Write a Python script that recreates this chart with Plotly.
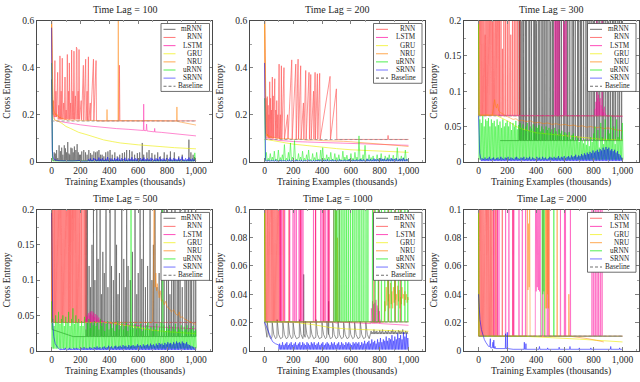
import plotly.graph_objects as go

W, H = 640, 382
FONT = "Liberation Serif"

# ---------------- axes / labels ----------------
TIME_LAGS = [100, 200, 300, 500, 1000, 2000]
Y_MAX = [0.6, 0.6, 0.2, 0.2, 0.1, 0.1]
Y_DTICK = [0.2, 0.2, 0.05, 0.05, 0.02, 0.02]
X_TICKS = [0, 200, 400, 600, 800, 1000]
BASELINE = [0.1733, 0.0945, 0.0650, 0.0400, 0.0204, 0.0103]
MODELS = ["mRNN", "RNN", "LSTM", "GRU", "NRU", "uRNN", "SRNN"]
LEGENDS = [MODELS + ["Baseline"], MODELS[1:] + ["Baseline"], MODELS + ["Baseline"],
           MODELS + ["Baseline"], MODELS + ["Baseline"], MODELS[1:] + ["Baseline"]]


def spikes(xs, tops, base, w=1.5):
    if not isinstance(tops, (list, tuple)):
        tops = [tops] * len(xs)
    pts = []
    for x, t in zip(xs, tops):
        pts += [(x - w, base), (x, t), (x + w, base)]
    return pts


def saw(x0, dx, tops, base):
    pts = []
    for i, t in enumerate(tops):
        pts += [(x0 + i * dx, base), (x0 + i * dx + dx / 2, t)]
    pts.append((x0 + len(tops) * dx, base))
    return pts


def teeth(starts, peaks, trough):
    pts = []
    for s, p in zip(starts, peaks):
        pts += [(s, trough + 0.001), (s + 1.5, p), (s + 5, p - 0.004),
                (s + 12, trough + 0.003), (s + 25, trough)]
    return pts


def merge(*parts):
    pts = sorted([p for part in parts for p in part], key=lambda q: q[0])
    return pts

# ======================= Time Lag = 100 =======================
mrnn_100_base = [(0, 0.35), (3, 0.12), (6, 0.02), (10, 0.006), (1000, 0.004)]
mrnn_100_sx = [18, 26, 35, 43, 52, 61, 70, 78, 88, 96, 104, 112, 120, 126, 134, 142, 150, 158, 168, 177,
               185, 193, 200, 209, 223, 235, 246, 258, 270, 280, 293, 305, 316, 328, 339, 350, 362, 375, 390, 405,
               420, 438, 455, 472, 490, 505, 520, 540, 557, 575, 594, 610, 628, 638, 660, 675, 695, 715, 735, 753,
               780, 800, 823, 850, 881, 905, 951, 965, 980, 990]
mrnn_100_sy = [0.04, 0.035, 0.05, 0.016, 0.07, 0.045, 0.06, 0.03, 0.07, 0.057, 0.04, 0.084, 0.035, 0.03, 0.06, 0.057, 0.04, 0.065, 0.05, 0.075,
               0.04, 0.03, 0.03, 0.044, 0.05, 0.04, 0.03, 0.05, 0.037, 0.03, 0.044, 0.04, 0.044, 0.05, 0.03, 0.03, 0.023, 0.04, 0.044, 0.05,
               0.03, 0.04, 0.023, 0.03, 0.037, 0.04, 0.05, 0.05, 0.044, 0.03, 0.037, 0.04, 0.08, 0.03, 0.04, 0.05, 0.037, 0.03, 0.04, 0.023,
               0.04, 0.03, 0.044, 0.04, 0.023, 0.03, 0.094, 0.04, 0.03, 0.02]
rnn_100 = [(0, 0.6), (3, 0.3), (6, 0.24), (10, 0.2), (14, 0.26), (18, 0.19), (23, 0.43), (26, 0.19), (30, 0.3), (34, 0.19),
           (38, 0.27), (42, 0.38), (46, 0.18), (50, 0.24), (54, 0.18), (58, 0.45), (62, 0.18), (66, 0.3), (70, 0.18), (74, 0.44),
           (78, 0.18), (84, 0.25), (88, 0.18), (93, 0.36), (97, 0.18), (101, 0.22), (105, 0.18), (109, 0.456), (113, 0.18), (118, 0.3),
           (121, 0.18), (123, 0.42), (127, 0.18), (132, 0.25), (135, 0.18), (139, 0.475), (143, 0.18), (148, 0.3), (151, 0.18), (155, 0.47),
           (159, 0.18), (165, 0.28), (169, 0.18), (172, 0.487), (176, 0.48), (178, 0.18), (184, 0.3), (187, 0.18), (190, 0.477), (194, 0.18),
           (205, 0.26), (208, 0.178), (220, 0.41), (223, 0.176), (236, 0.436), (239, 0.176), (246, 0.3), (249, 0.176), (255, 0.446), (258, 0.175),
           (268, 0.25), (271, 0.175), (290, 0.436), (293, 0.175), (308, 0.43), (311, 0.174), (467, 0.174), (470, 0.41), (473, 0.174), (1000, 0.174)]
lstm_100 = [(0, 0.6), (3, 0.35), (6, 0.25), (10, 0.21), (15, 0.19), (22, 0.178), (30, 0.174), (72, 0.17), (100, 0.165),
            (200, 0.157), (280, 0.151), (361, 0.145), (450, 0.141), (530, 0.138), (591, 0.135), (636, 0.133), (638, 0.245),
            (640, 0.133), (655, 0.132), (658, 0.16), (661, 0.131), (700, 0.128), (712, 0.127), (714, 0.142), (716, 0.127),
            (760, 0.125), (822, 0.121), (900, 0.116), (1000, 0.11)]
gru_100 = [(0, 0.6), (3, 0.35), (6, 0.22), (10, 0.19), (20, 0.178), (40, 0.174), (72, 0.163), (100, 0.15), (130, 0.142),
           (188, 0.125), (245, 0.115), (300, 0.103), (360, 0.093), (420, 0.086), (476, 0.08), (600, 0.072), (707, 0.066),
           (850, 0.06), (1000, 0.055)]
nru_100 = [(0, 0.6), (3, 0.4), (6, 0.3), (10, 0.24), (15, 0.22), (20, 0.21), (25, 0.2), (30, 0.205), (35, 0.195), (40, 0.2),
           (45, 0.19), (50, 0.193), (55, 0.186), (60, 0.19), (70, 0.183), (80, 0.185), (90, 0.178), (100, 0.18), (110, 0.176), (120, 0.179),
           (140, 0.175), (160, 0.178), (180, 0.174), (200, 0.176), (230, 0.174), (260, 0.176), (290, 0.174), (320, 0.175), (350, 0.174),
           (382, 0.174), (384, 0.222), (386, 0.174), (420, 0.175), (460, 0.174), (462, 0.62), (464, 0.174), (500, 0.175), (540, 0.174),
           (580, 0.175), (620, 0.174), (660, 0.175), (700, 0.174), (740, 0.175), (780, 0.174), (820, 0.174), (866, 0.173),
           (868, 0.233), (870, 0.172), (900, 0.168), (930, 0.164), (960, 0.16), (1000, 0.156)]
urnn_100 = [(0, 0.42), (2, 0.15), (4, 0.03), (7, 0.003), (985, 0.003), (992, 0.038), (996, 0.01), (1000, 0.004)]
srnn_100_base = [(0, 0.57), (2, 0.2), (5, 0.05), (10, 0.02), (20, 0.008), (60, 0.004), (150, 0.003), (200, 0.006), (204, 0.002), (249, 0.002)]
srnn_100_tops = [0.010, 0.014, 0.008, 0.016, 0.012, 0.009, 0.018, 0.011, 0.015, 0.008,
                 0.013, 0.020, 0.010, 0.014, 0.009, 0.016, 0.012, 0.018, 0.010, 0.015,
                 0.011, 0.017, 0.009, 0.014, 0.012, 0.019, 0.010, 0.015, 0.013, 0.009,
                 0.016, 0.012, 0.018, 0.011, 0.014, 0.010, 0.017, 0.013, 0.009, 0.015,
                 0.012, 0.020, 0.011, 0.014, 0.010, 0.016, 0.012, 0.018, 0.010, 0.015,
                 0.013, 0.011, 0.017, 0.012, 0.022, 0.010, 0.015, 0.012, 0.018, 0.011,
                 0.014, 0.009]

# ======================= Time Lag = 200 =======================
rnn_200 = [(0, 0.6), (2, 0.45), (4, 0.3), (6, 0.25), (8, 0.12), (10, 0.27), (12, 0.11), (15, 0.26), (17, 0.1), (19, 0.277),
           (22, 0.11), (25, 0.24), (27, 0.1), (30, 0.2), (33, 0.1), (36, 0.34), (39, 0.1), (42, 0.27), (45, 0.1), (48, 0.22),
           (51, 0.1), (54, 0.36), (57, 0.1), (60, 0.28), (63, 0.1), (66, 0.25), (68, 0.1), (71, 0.353), (74, 0.1), (78, 0.22),
           (81, 0.1), (85, 0.26), (88, 0.1), (92, 0.2), (95, 0.1), (101, 0.415), (104, 0.097), (110, 0.2), (113, 0.097), (117, 0.408),
           (120, 0.097), (135, 0.40), (138, 0.096), (160, 0.2), (163, 0.096), (189, 0.433), (192, 0.096), (217, 0.415), (220, 0.096),
           (233, 0.436), (236, 0.096), (251, 0.408), (254, 0.096), (270, 0.25), (273, 0.096), (286, 0.388), (289, 0.096), (309, 0.38),
           (312, 0.096), (321, 0.371), (324, 0.096), (340, 0.3), (343, 0.096), (351, 0.38), (354, 0.096), (367, 0.374), (370, 0.096),
           (383, 0.376), (386, 0.095), (455, 0.363), (458, 0.095), (499, 0.31), (502, 0.095), (855, 0.095), (858, 0.112), (861, 0.095),
           (1000, 0.095)]
lstm_200 = [(0, 0.6), (2, 0.35), (4, 0.18), (7, 0.11), (12, 0.097), (50, 0.096), (100, 0.091), (150, 0.088), (200, 0.086),
            (300, 0.084), (400, 0.082), (500, 0.079), (600, 0.077), (700, 0.075), (800, 0.073), (900, 0.071), (1000, 0.07)]
gru_200 = [(0, 0.6), (2, 0.4), (4, 0.2), (7, 0.1), (12, 0.095), (50, 0.09), (100, 0.085), (150, 0.08), (200, 0.075), (300, 0.068),
           (400, 0.062), (500, 0.056), (600, 0.051), (700, 0.048), (800, 0.045), (900, 0.042), (1000, 0.04)]
nru_200 = [(0, 0.6), (3, 0.62), (5, 0.45), (7, 0.25), (9, 0.15), (12, 0.125), (16, 0.11), (20, 0.118), (24, 0.105), (30, 0.112),
           (36, 0.102), (45, 0.108), (55, 0.1), (70, 0.104), (85, 0.098), (100, 0.1), (130, 0.097), (160, 0.099), (200, 0.095),
           (250, 0.096), (300, 0.092), (350, 0.093), (400, 0.09), (450, 0.09), (500, 0.087), (550, 0.087), (600, 0.085), (650, 0.083),
           (700, 0.08), (750, 0.078), (800, 0.075), (850, 0.073), (900, 0.07), (950, 0.068), (1000, 0.065)]
urnn_200_base = [(0, 0.27), (2, 0.1), (4, 0.03)]
urnn_200_tops = [0.04, 0.015, 0.035, 0.02, 0.045, 0.012, 0.05, 0.018, 0.03,
                 0.073, 0.015, 0.04, 0.08, 0.02, 0.09, 0.012, 0.035, 0.02,
                 0.045, 0.015, 0.03, 0.05, 0.01, 0.035, 0.018, 0.04, 0.012,
                 0.05, 0.06, 0.015, 0.03, 0.02, 0.04, 0.012, 0.035, 0.018,
                 0.03, 0.01, 0.045, 0.02, 0.028, 0.012, 0.035, 0.015, 0.04,
                 0.02, 0.11, 0.015, 0.03, 0.07, 0.012, 0.03, 0.018, 0.025,
                 0.01, 0.03, 0.015, 0.035, 0.012, 0.025, 0.018, 0.03, 0.01,
                 0.028, 0.015, 0.06, 0.012, 0.025, 0.018, 0.05, 0.01]
srnn_200_base = [(0, 0.42), (2, 0.27), (4, 0.05), (7, 0.012), (10, 0.004)]
srnn_200_tops = [0.005, 0.008, 0.004, 0.007, 0.005, 0.009, 0.004, 0.006, 0.008, 0.005,
                 0.007, 0.004, 0.006, 0.009, 0.005, 0.007, 0.004, 0.008, 0.006, 0.005,
                 0.008, 0.004, 0.007, 0.005, 0.009, 0.006, 0.004, 0.007, 0.005, 0.008,
                 0.006, 0.009, 0.005, 0.008, 0.006, 0.01, 0.005, 0.007, 0.009, 0.006,
                 0.008, 0.005, 0.01, 0.007, 0.006, 0.009, 0.005, 0.008, 0.011, 0.006,
                 0.009, 0.007, 0.01, 0.006, 0.012, 0.008, 0.01, 0.007, 0.013, 0.009,
                 0.011, 0.008, 0.014, 0.01, 0.012, 0.009, 0.015, 0.011, 0.013, 0.009,
                 0.014, 0.01, 0.016, 0.012, 0.011, 0.015, 0.009, 0.013, 0.012, 0.016,
                 0.01, 0.012]

# ======================= Time Lag = 300 =======================
mrnn_300_base = [(150, 0.03), (1000, 0.03)]
mrnn_300_sx = [282, 288, 296, 308, 314, 326, 334, 350, 356, 368, 384, 390, 398, 404, 418, 426, 440, 448, 460, 470,
               482, 496, 502, 514, 522, 536, 546, 558, 564, 576, 592, 600, 614, 620, 634, 650, 660, 672, 688, 696,
               708, 716, 730, 746, 756, 768, 782, 796, 806, 820, 830, 842, 858, 866, 880, 894, 904, 916, 930, 940,
               952, 968, 980, 994]
rnn_300_base = [(0, 0.25), (1000, 0.065)]
rnn_300_dense = [0.25, 0.25, 0.22, 0.25, 0.25, 0.25, 0.2, 0.25, 0.25, 0.25, 0.25, 0.18, 0.25, 0.25, 0.25, 0.25, 0.25,
                 0.22, 0.25, 0.25, 0.25, 0.25, 0.2, 0.25, 0.25, 0.25, 0.25, 0.25, 0.19, 0.25, 0.25, 0.25, 0.25]
rnn_300_sx = [138, 146, 156, 166, 176, 188, 200, 212, 224, 236, 248, 260, 272, 286]
rnn_300_sy = [0.25, 0.2, 0.25, 0.16, 0.25, 0.25, 0.2, 0.25, 0.18, 0.25, 0.22, 0.25, 0.25, 0.25]
lstm_300_base = [(0, 0.25), (3, 0.066), (1000, 0.064)]
lstm_300_sx = [530, 537, 545, 552, 560, 592, 600, 608, 822, 858]
lstm_300_bump = [0.075, 0.085, 0.08, 0.09, 0.095, 0.085, 0.09, 0.08, 0.085, 0.075, 0.07, 0.078, 0.068]
gru_300 = [(0, 0.25), (4, 0.066), (120, 0.066), (160, 0.062), (210, 0.057), (260, 0.05), (310, 0.046), (400, 0.041),
           (545, 0.038), (700, 0.035), (850, 0.032), (1000, 0.031)]
nru_300 = [(0, 0.25), (4, 0.066), (95, 0.066), (105, 0.078), (112, 0.088), (118, 0.08), (125, 0.076), (132, 0.082), (140, 0.072),
           (150, 0.07), (165, 0.068), (180, 0.066), (200, 0.064), (220, 0.062), (240, 0.06), (260, 0.061), (280, 0.058), (300, 0.059),
           (330, 0.057), (360, 0.058), (390, 0.055), (420, 0.056), (450, 0.054), (480, 0.055), (510, 0.053), (540, 0.054),
           (570, 0.052), (600, 0.053), (630, 0.051), (660, 0.052), (690, 0.05), (720, 0.051), (750, 0.049), (780, 0.05),
           (810, 0.048), (840, 0.049), (870, 0.047), (900, 0.048), (930, 0.046), (960, 0.045), (1000, 0.044)]
urnn_300_base = [(0, 0.2), (2, 0.065)]
urnn_300_tops = [0.06, 0.055, 0.065, 0.05, 0.06, 0.058, 0.062, 0.05, 0.06, 0.055,
                 0.058, 0.05, 0.06, 0.052, 0.057, 0.048, 0.06, 0.05, 0.055, 0.058,
                 0.05, 0.056, 0.045, 0.055, 0.05, 0.058, 0.046, 0.052, 0.055, 0.048,
                 0.053, 0.045, 0.05, 0.055, 0.044, 0.05, 0.047, 0.053, 0.042, 0.05,
                 0.048, 0.052, 0.043, 0.05, 0.046, 0.04, 0.05, 0.045, 0.048, 0.042,
                 0.046, 0.04, 0.048, 0.043, 0.038, 0.046, 0.04, 0.044, 0.036, 0.042,
                 0.04, 0.035, 0.042, 0.032, 0.038, 0.04, 0.03, 0.036, 0.033, 0.028,
                 0.034, 0.03, 0.026, 0.032, 0.024, 0.03, 0.022, 0.035, 0.028, 0.04,
                 0.05, 0.03, 0.045, 0.02, 0.055, 0.035, 0.025, 0.06, 0.03, 0.045,
                 0.04, 0.065, 0.03, 0.05, 0.025, 0.06, 0.035, 0.045, 0.03, 0.055]
srnn_300_base = [(0, 0.065), (4, 0.03), (8, 0.012), (15, 0.005), (20, 0.002)]
srnn_300_tops = [0.005, 0.004, 0.006, 0.004, 0.005, 0.007, 0.004, 0.005, 0.006, 0.004,
                 0.005, 0.006, 0.004, 0.007, 0.005, 0.004, 0.006, 0.005, 0.007, 0.004,
                 0.006, 0.005, 0.004, 0.006, 0.007, 0.005, 0.004, 0.006, 0.005, 0.007,
                 0.004, 0.006, 0.005, 0.007, 0.004, 0.006, 0.005, 0.004, 0.007, 0.005,
                 0.006, 0.004, 0.007, 0.005, 0.006, 0.004, 0.005, 0.007, 0.006, 0.005,
                 0.007, 0.005, 0.006, 0.008, 0.005, 0.007, 0.006, 0.008, 0.005, 0.007,
                 0.008, 0.006, 0.009, 0.007, 0.008, 0.01, 0.007, 0.009, 0.008, 0.011,
                 0.009, 0.012, 0.01, 0.013, 0.011, 0.014, 0.012, 0.016, 0.013, 0.015,
                 0.017, 0.014, 0.018, 0.016, 0.02, 0.017, 0.021, 0.018, 0.02, 0.016,
                 0.018, 0.015, 0.017, 0.013, 0.015, 0.011, 0.009, 0.006]

# ======================= Time Lag = 500 =======================
mrnn_500_base = [(0, 0.2), (4, 0.03), (150, 0.02), (1000, 0.02)]
mrnn_500_tall = [239, 248, 290, 313, 336, 377, 405, 440, 486, 520, 578, 613, 636, 682, 716, 763, 779, 797, 832,
                 855, 890, 924, 947, 970, 998]
mrnn_500_mx = [260, 270, 280, 300, 322, 345, 355, 365, 390, 415, 428, 450, 460, 470, 500, 510, 530, 545, 560, 590,
               600, 625, 650, 665, 695, 705, 730, 745, 810, 820, 845, 870, 880, 905, 935, 960, 985]
mrnn_500_my = [0.12, 0.09, 0.15, 0.1, 0.13, 0.08, 0.14, 0.11, 0.09, 0.12, 0.1, 0.15, 0.08, 0.11, 0.13, 0.09, 0.12, 0.1, 0.14, 0.08,
               0.11, 0.13, 0.09, 0.12, 0.1, 0.15, 0.09, 0.11, 0.13, 0.08, 0.12, 0.1, 0.14, 0.09, 0.11, 0.12, 0.1]
rnn_500_base = [(0, 0.25), (1000, 0.04)]
rnn_500_dense = [0.25, 0.25, 0.25, 0.22, 0.25, 0.25, 0.25, 0.25, 0.2, 0.25, 0.25, 0.25, 0.25, 0.25,
                 0.23, 0.25, 0.25, 0.25, 0.25, 0.25, 0.21, 0.25, 0.25, 0.25, 0.25, 0.25, 0.25, 0.25]
rnn_500_sx = [118, 124, 130, 136, 144, 150, 158, 166, 174, 182, 190, 198, 208, 218, 228, 238]
lstm_500_head = [(0, 0.25), (3, 0.04), (234, 0.04)]
lstm_500_hill = [0.045, 0.05, 0.048, 0.053, 0.05, 0.055, 0.052, 0.056, 0.05, 0.054, 0.048, 0.052, 0.046, 0.05,
                 0.044, 0.047, 0.043, 0.045, 0.042, 0.043, 0.041, 0.042, 0.04]
lstm_500_tail = [(380, 0.04), (400, 0.039), (500, 0.037), (600, 0.035), (700, 0.034), (800, 0.033), (900, 0.032), (1000, 0.031)]
gru_500 = [(0, 0.25), (3, 0.04), (400, 0.04), (500, 0.036), (600, 0.032), (700, 0.029), (800, 0.027), (900, 0.026), (1000, 0.024)]
nru_500 = [(0, 0.25), (3, 0.04), (700, 0.04), (705, 0.1), (710, 0.25), (713, 0.12), (718, 0.09), (722, 0.11), (727, 0.085),
           (732, 0.095), (738, 0.08), (745, 0.075), (752, 0.085), (760, 0.07), (770, 0.072), (780, 0.065), (790, 0.07),
           (800, 0.062), (815, 0.06), (830, 0.055), (845, 0.058), (860, 0.052), (875, 0.05), (885, 0.055), (890, 0.047),
           (905, 0.048), (920, 0.045), (940, 0.043), (960, 0.041), (980, 0.039), (1000, 0.037)]
urnn_500_base = [(0, 0.07), (2, 0.04)]
urnn_500_tops = [0.045, 0.035, 0.05, 0.04, 0.055, 0.038, 0.045, 0.05, 0.035, 0.048,
                 0.04, 0.055, 0.035, 0.045, 0.06, 0.038, 0.05, 0.04, 0.045, 0.035,
                 0.042, 0.035, 0.048, 0.03, 0.04, 0.045, 0.032, 0.04, 0.036, 0.042,
                 0.035, 0.04, 0.03, 0.045, 0.035, 0.04, 0.028, 0.038, 0.042, 0.03,
                 0.038, 0.032, 0.04, 0.028, 0.036, 0.042, 0.03, 0.035, 0.04, 0.03,
                 0.035, 0.04, 0.028, 0.036, 0.03, 0.04, 0.032, 0.038, 0.03, 0.035,
                 0.032, 0.038, 0.028, 0.035, 0.03, 0.036, 0.04, 0.03, 0.034, 0.028,
                 0.035, 0.03, 0.038, 0.028, 0.033, 0.04, 0.03, 0.036, 0.028, 0.034,
                 0.03, 0.036, 0.028, 0.034, 0.03, 0.038, 0.027, 0.033, 0.03, 0.036,
                 0.028, 0.034, 0.03, 0.036, 0.027, 0.032, 0.03, 0.035, 0.028, 0.03]
urnn_500_tall = [550, 767]
srnn_500_base = [(0, 0.2), (3, 0.1), (8, 0.04), (15, 0.02), (25, 0.01), (40, 0.005), (60, 0.002)]
srnn_500_tops = [0.003, 0.002, 0.003, 0.004, 0.002, 0.003, 0.004, 0.003, 0.002, 0.004,
                 0.003, 0.004, 0.003, 0.002, 0.004, 0.003, 0.005, 0.003, 0.004, 0.003,
                 0.005, 0.004, 0.003, 0.005, 0.004, 0.006, 0.004, 0.005, 0.003, 0.005,
                 0.006, 0.004, 0.005, 0.007, 0.005, 0.006, 0.004, 0.006, 0.007, 0.005,
                 0.006, 0.007, 0.005, 0.008, 0.006, 0.007, 0.005, 0.008, 0.006, 0.007,
                 0.008, 0.006, 0.007, 0.009, 0.007, 0.008, 0.006, 0.009, 0.007, 0.008,
                 0.009, 0.007, 0.01, 0.008, 0.009, 0.007, 0.01, 0.008, 0.011, 0.009,
                 0.01, 0.008, 0.011, 0.009, 0.012, 0.01, 0.011, 0.009, 0.012, 0.01,
                 0.013, 0.011, 0.012, 0.01, 0.013, 0.011, 0.01, 0.012, 0.009, 0.008,
                 0.007, 0.006, 0.005, 0.004]

# ======================= Time Lag = 1000 =======================
mrnn_1000_head = [(0, 0.0204), (5, 0.017), (12, 0.012)]
mrnn_1000_starts = [17, 52, 86, 126, 163, 197, 241, 282, 317, 356, 398, 432, 472, 509, 548, 587, 624, 663, 702]
mrnn_1000_peaks = [0.021, 0.02, 0.022, 0.02, 0.021, 0.02, 0.022, 0.021, 0.02, 0.022, 0.02, 0.021, 0.02, 0.021,
                   0.02, 0.021, 0.02, 0.021, 0.02]
mrnn_1000_sx = [272, 445]
mrnn_1000_sy = [0.054, 0.035]
mrnn_1000_tail = [0.014, 0.013, 0.015, 0.0135, 0.014, 0.013, 0.0145, 0.0135, 0.015, 0.013, 0.014, 0.0135, 0.0145,
                  0.013, 0.014, 0.015, 0.0135, 0.014, 0.013, 0.0145, 0.014, 0.0135, 0.015, 0.013, 0.014, 0.0135]
rnn_1000_base = [(0, 0.12), (1000, 0.0204)]
rnn_1000_dense = [0.12, 0.12, 0.12, 0.1, 0.12, 0.12, 0.12, 0.12, 0.12, 0.09, 0.12, 0.12, 0.12,
                  0.12, 0.12, 0.12, 0.11, 0.12, 0.12, 0.12, 0.12, 0.12, 0.12, 0.12, 0.12, 0.12]
rnn_1000_sx = [112, 133, 170, 250, 354, 412, 447, 496, 760, 793, 862, 908, 943]
lstm_1000_base = [(0, 0.12), (3, 0.0204), (500, 0.0195), (1000, 0.018)]
lstm_1000_sx = [108, 115, 122, 140, 175, 198, 210, 221, 240, 248, 258, 267, 340, 355, 390, 400, 412, 425, 440, 447, 480, 520]
lstm_1000_bump = [0.03, 0.025, 0.035, 0.028, 0.033, 0.026, 0.034, 0.03, 0.036, 0.027, 0.032, 0.025, 0.03, 0.024, 0.028, 0.022]
gru_1000 = [(0, 0.12), (3, 0.0204), (200, 0.0204), (250, 0.0195), (337, 0.0185), (450, 0.0165), (570, 0.0154),
            (700, 0.0148), (802, 0.0145), (900, 0.014), (1000, 0.0138)]
nru_1000 = [(0, 0.12), (3, 0.0204), (505, 0.0204), (507, 0.08), (509, 0.0204), (830, 0.0204), (835, 0.035), (840, 0.028),
            (845, 0.045), (850, 0.032), (855, 0.05), (860, 0.035), (865, 0.04), (870, 0.03), (875, 0.048), (880, 0.033),
            (885, 0.042), (890, 0.03), (895, 0.045), (900, 0.034), (905, 0.05), (910, 0.036), (915, 0.04), (920, 0.032),
            (925, 0.046), (930, 0.035), (935, 0.043), (940, 0.03), (945, 0.038), (950, 0.033), (955, 0.045), (960, 0.037),
            (965, 0.04), (970, 0.032), (975, 0.042), (980, 0.036), (985, 0.04), (990, 0.034), (995, 0.038), (1000, 0.036)]
urnn_1000_base = [(0, 0.12), (3, 0.0204), (1000, 0.0204)]
urnn_1000_sx = [482, 492, 500, 510, 520, 532, 545, 558, 570, 582, 596, 610, 622, 636, 650, 662, 676, 690, 705, 718,
                750, 768, 790, 812, 835, 858, 880, 905, 930, 950, 975, 995]
srnn_1000_base = [(0, 0.0204), (10, 0.018), (25, 0.014), (40, 0.01), (55, 0.0065), (75, 0.005), (100, 0.004)]
srnn_1000_tops = [0.005, 0.004, 0.006, 0.004, 0.005, 0.006, 0.004, 0.005, 0.006, 0.004,
                  0.005, 0.006, 0.004, 0.005, 0.006, 0.004, 0.006, 0.005, 0.004, 0.006,
                  0.005, 0.004, 0.006, 0.005, 0.006, 0.004, 0.005, 0.006, 0.004, 0.005,
                  0.006, 0.004, 0.005, 0.006, 0.005, 0.004, 0.006, 0.005, 0.006, 0.004,
                  0.005, 0.006, 0.004, 0.006, 0.005, 0.004, 0.006, 0.005, 0.006, 0.005,
                  0.004, 0.006, 0.005, 0.006, 0.005, 0.006, 0.004, 0.006, 0.005, 0.007,
                  0.005, 0.006, 0.007, 0.005, 0.008, 0.006, 0.007, 0.005, 0.008, 0.006,
                  0.009, 0.006, 0.008, 0.007, 0.01, 0.007, 0.009, 0.008, 0.011, 0.007,
                  0.01, 0.008, 0.012, 0.009, 0.011, 0.008, 0.013, 0.01, 0.012, 0.009]

# ======================= Time Lag = 2000 =======================
rnn_2000_base = [(0, 0.12), (1000, 0.0103)]
rnn_2000_dense = [0.12, 0.12, 0.12, 0.12, 0.1, 0.12, 0.12, 0.12, 0.12, 0.12, 0.12, 0.09,
                  0.12, 0.12, 0.12, 0.12, 0.12, 0.12, 0.12, 0.11, 0.12, 0.12, 0.12, 0.12]
rnn_2000_sx = [105, 118, 128, 165, 239]
lstm_2000_base = [(0, 0.12), (3, 0.0103), (1000, 0.0103)]
lstm_2000_sx = [108, 131, 142, 188, 211, 239, 245, 281, 304, 327, 447, 477, 488, 569, 597, 604, 638,
                788, 800, 811, 823, 834, 846, 858]
lstm_2000_block = [(394, 0.0103), (396, 0.12), (400, 0.042), (404, 0.1), (408, 0.045), (412, 0.12), (416, 0.043),
                   (420, 0.11), (424, 0.042), (428, 0.12), (431, 0.0103)]
gru_2000 = [(0, 0.12), (3, 0.0103), (300, 0.0103), (400, 0.0099), (556, 0.0092), (700, 0.0082), (788, 0.0076),
            (900, 0.0068), (1000, 0.0062)]
nru_2000 = [(0, 0.12), (3, 0.0103), (337, 0.0103), (339, 0.12), (343, 0.043), (348, 0.09), (352, 0.045), (355, 0.12),
            (358, 0.0103), (462, 0.0103), (465, 0.12), (468, 0.03), (471, 0.12), (474, 0.03), (477, 0.12), (480, 0.04),
            (483, 0.12), (486, 0.03), (489, 0.12), (492, 0.0103), (544, 0.0103), (546, 0.12), (548, 0.0103), (625, 0.0103),
            (627, 0.04), (630, 0.0103), (640, 0.0102), (700, 0.0095), (760, 0.0085), (820, 0.0073), (870, 0.0062)]
urnn_2000 = [(0, 0.12), (3, 0.0103), (440, 0.0103), (442, 0.12), (446, 0.04), (450, 0.12), (454, 0.042), (456, 0.12),
             (459, 0.0103), (521, 0.0103), (523, 0.12), (525, 0.0103), (1000, 0.0103)]
srnn_2000 = [(0, 0.04), (5, 0.03), (10, 0.022), (20, 0.015), (30, 0.011), (40, 0.008), (50, 0.006), (60, 0.004), (70, 0.003),
             (78, 0.003), (82, 0.0085), (84, 0.002), (95, 0.002), (100, 0.006), (103, 0.002), (106, 0.0075), (109, 0.0015),
             (115, 0.003), (118, 0.0015), (186, 0.0015), (188, 0.012), (190, 0.0015), (198, 0.0015), (200, 0.013),
             (202, 0.0015), (240, 0.001), (316, 0.001), (318, 0.006), (320, 0.001), (327, 0.001), (329, 0.005), (331, 0.001),
             (420, 0.001), (423, 0.003), (426, 0.001), (478, 0.001), (480, 0.002), (482, 0.001), (558, 0.001), (560, 0.0025),
             (562, 0.001), (633, 0.001), (635, 0.003), (637, 0.001), (698, 0.001), (700, 0.002), (702, 0.001), (778, 0.001),
             (780, 0.002), (782, 0.001), (916, 0.001), (918, 0.003), (920, 0.001), (978, 0.001), (980, 0.002), (982, 0.001),
             (1000, 0.001)]

# ---------------- assemble series per panel ----------------
PANELS = [
    {
        "mRNN": merge(mrnn_100_base, spikes(mrnn_100_sx, mrnn_100_sy, 0.004)),
        "RNN": rnn_100, "LSTM": lstm_100, "GRU": gru_100, "NRU": nru_100, "uRNN": urnn_100,
        "SRNN": merge(srnn_100_base, saw(250, 12, srnn_100_tops, 0.0015)),
    },
    {
        "RNN": rnn_200, "LSTM": lstm_200, "GRU": gru_200, "NRU": nru_200,
        "uRNN": merge(urnn_200_base, saw(5, 14, urnn_200_tops, 0.003)),
        "SRNN": merge(srnn_200_base, saw(10, 12, srnn_200_tops, 0.0015)),
    },
    {
        "mRNN": merge(mrnn_300_base, spikes(mrnn_300_sx, 0.25, 0.03, 1.2)),
        "RNN": merge(rnn_300_base, saw(0, 4, rnn_300_dense, 0.065), spikes(rnn_300_sx, rnn_300_sy, 0.065)),
        "LSTM": merge(lstm_300_base, spikes(lstm_300_sx, 0.25, 0.0655), saw(806, 6, lstm_300_bump, 0.0652)),
        "GRU": gru_300, "NRU": nru_300,
        "uRNN": merge(urnn_300_base, saw(4, 10, urnn_300_tops, 0.003)),
        "SRNN": merge(srnn_300_base, saw(20, 10, srnn_300_tops, 0.001)),
    },
    {
        "mRNN": merge(mrnn_500_base, spikes(mrnn_500_tall, 0.25, 0.02, 1.2), spikes(mrnn_500_mx, mrnn_500_my, 0.02, 1.2)),
        "RNN": merge(rnn_500_base, saw(0, 4, rnn_500_dense, 0.04), spikes(rnn_500_sx, 0.25, 0.04)),
        "LSTM": merge(lstm_500_head, saw(234, 6, lstm_500_hill, 0.04), lstm_500_tail),
        "GRU": gru_500, "NRU": nru_500,
        "uRNN": merge(urnn_500_base, saw(3, 10, urnn_500_tops, 0.003), spikes(urnn_500_tall, 0.25, 0.003)),
        "SRNN": merge(srnn_500_base, saw(60, 10, srnn_500_tops, 0.001)),
    },
    {
        "mRNN": merge(mrnn_1000_head, teeth(mrnn_1000_starts, mrnn_1000_peaks, 0.0085),
                      spikes(mrnn_1000_sx, mrnn_1000_sy, 0.012), saw(735, 10, mrnn_1000_tail, 0.0118)),
        "RNN": merge(rnn_1000_base, saw(2, 4, rnn_1000_dense, 0.0204), spikes(rnn_1000_sx, 0.12, 0.0204)),
        "LSTM": merge(lstm_1000_base, spikes(lstm_1000_sx, 0.12, 0.0202), saw(740, 4, lstm_1000_bump, 0.0192)),
        "GRU": gru_1000, "NRU": nru_1000,
        "uRNN": merge(urnn_1000_base, spikes(urnn_1000_sx, 0.12, 0.0204)),
        "SRNN": merge(srnn_1000_base, saw(100, 10, srnn_1000_tops, 0.0008)),
    },
    {
        "RNN": merge(rnn_2000_base, saw(0, 4, rnn_2000_dense, 0.0103), spikes(rnn_2000_sx, 0.12, 0.0103)),
        "LSTM": merge(lstm_2000_base, spikes(lstm_2000_sx, 0.12, 0.0103), lstm_2000_block),
        "GRU": gru_2000, "NRU": nru_2000, "uRNN": urnn_2000, "SRNN": srnn_2000,
    },
]

# ---------------- styling ----------------
STYLE = {
    "mRNN": ("#000000", 0.6),
    "RNN": ("#ff0000", 0.6),
    "LSTM": ("#ff0099", 0.65),
    "GRU": ("#eeee00", 0.85),
    "NRU": ("#ff8000", 0.7),
    "uRNN": ("#00ee00", 0.7),
    "SRNN": ("#0000ff", 0.75),
}
LEG_COLOR = {
    "mRNN": "#7a7a7a", "RNN": "#ff8080", "LSTM": "#ff5cc0", "GRU": "#f5f560", "NRU": "#ffb060",
    "uRNN": "#60f060", "SRNN": "#8080ff", "Baseline": "#707070",
}
TEXT_COLOR = "#262626"

COLS = [(37, 212), (250, 424.5), (464, 638.5)]
ROWS = [(16, 161), (210, 355)]

fig = go.Figure()
annotations = []
shapes = []


def px(x):
    return x / W


def py(y):
    return 1 - y / H


for i in range(6):
    r, c = divmod(i, 3)
    fx0, fx1 = COLS[c]
    fy0, fy1 = ROWS[r]
    sfx = "" if i == 0 else str(i + 1)
    tick_common = dict(showline=True, linecolor="#4a4a4a", linewidth=0.8, mirror="ticks",
                       ticks="inside", ticklen=3.5, tickwidth=0.6, tickcolor="#808080",
                       showgrid=False, zeroline=False,
                       tickfont=dict(family=FONT, size=9.5, color=TEXT_COLOR))
    fig.update_layout(**{
        "xaxis" + sfx: dict(domain=[px(fx0), px(fx1)], anchor="y" + sfx, range=[-101, 1111],
                            tickmode="array", tickvals=X_TICKS, tickformat=",",
                            minor=dict(dtick=100, tick0=0, ticks="inside", ticklen=2, tickwidth=0.6, tickcolor="#a0a0a0"),
                            **tick_common),
        "yaxis" + sfx: dict(domain=[py(fy1), py(fy0)], anchor="x" + sfx, range=[0, Y_MAX[i]],
                            tick0=0, dtick=Y_DTICK[i],
                            minor=dict(dtick=Y_DTICK[i] / 2, tick0=0, ticks="inside", ticklen=2, tickwidth=0.6, tickcolor="#a0a0a0"),
                            **tick_common),
    })
    for m in MODELS:
        if m not in PANELS[i]:
            continue
        pts = PANELS[i][m]
        col, op = STYLE[m]
        fig.add_trace(go.Scatter(x=[p[0] for p in pts], y=[p[1] for p in pts], mode="lines",
                                 line=dict(color=col, width=0.7), opacity=op,
                                 xaxis="x" + sfx, yaxis="y" + sfx, showlegend=False, hoverinfo="skip"))
    fig.add_trace(go.Scatter(x=[0, 1000], y=[BASELINE[i], BASELINE[i]], mode="lines",
                             line=dict(color="#8c8c8c", width=0.8, dash="3px,2px"),
                             xaxis="x" + sfx, yaxis="y" + sfx, showlegend=False, hoverinfo="skip"))

    cx = (fx0 + fx1) / 2
    annotations.append(dict(text="Time Lag = %d" % TIME_LAGS[i], x=px(cx), y=py(fy0 - 11.5), xref="paper", yref="paper",
                            showarrow=False, xanchor="center", yanchor="middle",
                            font=dict(family=FONT, size=10, color=TEXT_COLOR)))
    annotations.append(dict(text="Training Examples (thousands)", x=px(cx), y=py(fy1 + 21), xref="paper", yref="paper",
                            showarrow=False, xanchor="center", yanchor="middle",
                            font=dict(family=FONT, size=9.6, color=TEXT_COLOR)))
    annotations.append(dict(text="Cross Entropy", x=px(fx0 - 30.5), y=py((fy0 + fy1) / 2), xref="paper", yref="paper",
                            showarrow=False, xanchor="center", yanchor="middle", textangle=-90,
                            font=dict(family=FONT, size=9.6, color=TEXT_COLOR)))
    entries = LEGENDS[i]
    lr = fx1 - 2.5
    ll = lr - 48.5
    lt = fy0 + 3
    row_h = 8.35
    lb = lt + 6 + (len(entries) - 1) * row_h + 5.3
    shapes.append(dict(type="rect", xref="paper", yref="paper", x0=px(ll), x1=px(lr), y0=py(lb), y1=py(lt),
                       line=dict(color="#4a4a4a", width=0.8), fillcolor="white", layer="above"))
    for k, name in enumerate(entries):
        yy = lt + 6 + k * row_h
        shapes.append(dict(type="line", xref="paper", yref="paper", x0=px(ll + 2.5), x1=px(ll + 14.5),
                           y0=py(yy), y1=py(yy), layer="above",
                           line=dict(color=LEG_COLOR[name], width=1.1,
                                     dash="3px,2px" if name == "Baseline" else "solid")))
        annotations.append(dict(text=name, x=px(lr - 4.5), y=py(yy), xref="paper", yref="paper", showarrow=False,
                                xanchor="right", yanchor="middle", font=dict(family=FONT, size=7.2, color=TEXT_COLOR)))

fig.update_layout(width=W, height=H, margin=dict(l=0, r=0, t=0, b=0), paper_bgcolor="white", plot_bgcolor="white",
                  showlegend=False, annotations=annotations, shapes=shapes)

fig.write_html("out.html", config={"displayModeBar": False},
               post_script="document.body.style.margin='0';document.body.style.overflow='hidden';")
